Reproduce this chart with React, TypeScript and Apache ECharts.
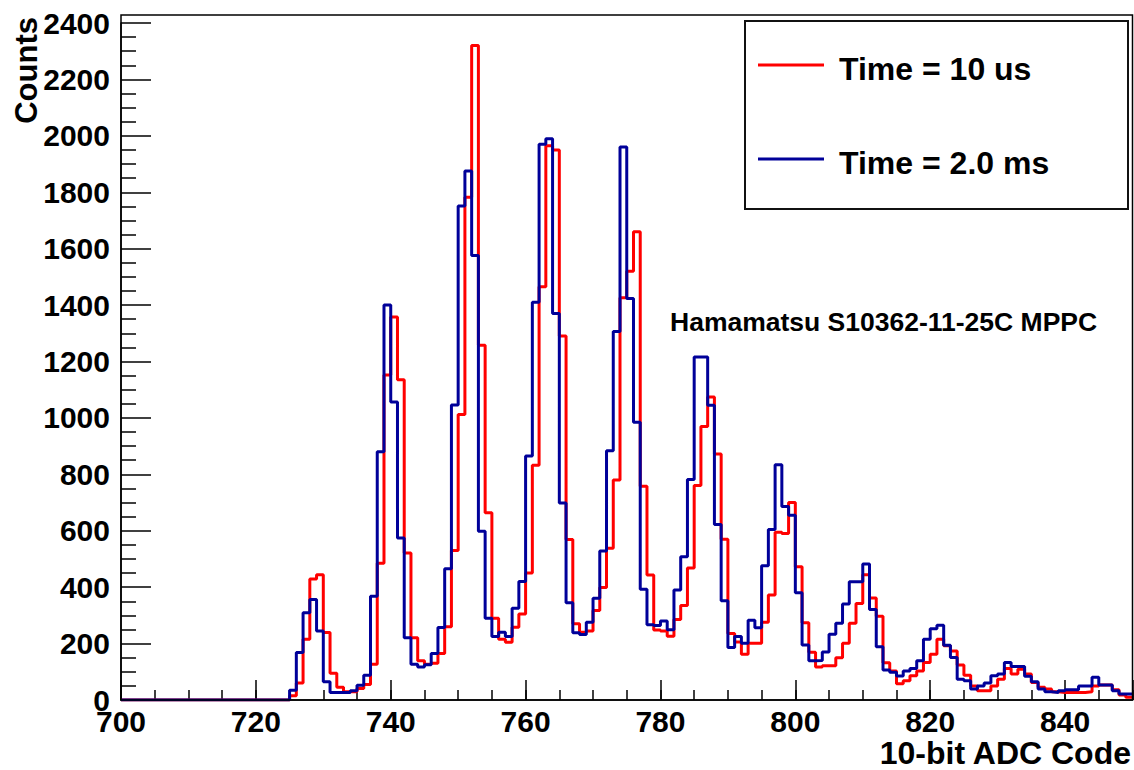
import React, { useEffect, useRef } from "react";
import * as echarts from "echarts";

// ---- data (bin width 1 ADC code, first bin starts at 700) ----
const firstBin = 700;
const binWidth = 1;
const xMin = 700;
const xMax = 850;
const yMin = 0;
const yMax = 2400;
const xTickStep = 20;
const xMinorStep = 5;
const yTickStep = 200;

const seriesNames = ["Time = 10 us", "Time = 2.0 ms"];
const seriesColors = ["#ff0000", "#000099"];

// bins 700..849
const redCounts = [
  0, 0, 0, 0, 0, 0, 0, 0, 0, 0, // 700-709
  0, 0, 0, 0, 0, 0, 0, 0, 0, 0, // 710-719
  0, 0, 0, 0, 0, 15, 60, 215, 429, 444, // 720-729
  239, 95, 45, 29, 29, 41, 55, 127, 485, 1152, // 730-739
  1358, 1135, 521, 221, 139, 127, 130, 165, 260, 530, // 740-749
  1012, 1782, 2320, 1258, 664, 290, 215, 205, 258, 305, // 750-759
  450, 832, 1465, 1965, 1950, 1290, 569, 270, 240, 245, // 760-769
  317, 399, 538, 780, 1426, 1520, 1660, 758, 443, 248, // 770-779
  245, 226, 285, 335, 468, 760, 970, 1074, 872, 570, // 780-789
  236, 206, 162, 201, 201, 276, 372, 595, 590, 700, // 790-799
  472, 274, 169, 117, 121, 121, 150, 201, 272, 342, // 800-809
  444, 362, 297, 132, 103, 58, 68, 86, 103, 133, // 810-819
  162, 215, 192, 174, 124, 88, 50, 33, 33, 50, // 820-829
  74, 112, 92, 109, 92, 62, 45, 39, 29, 27, // 830-839
  27, 27, 27, 29, 50, 53, 53, 36, 18, 10, // 840-849
];

const blueCounts = [
  0, 0, 0, 0, 0, 0, 0, 0, 0, 0, // 700-709
  0, 0, 0, 0, 0, 0, 0, 0, 0, 0, // 710-719
  0, 0, 0, 0, 0, 35, 168, 309, 356, 245, // 720-729
  65, 27, 27, 27, 33, 52, 88, 368, 880, 1400, // 730-739
  1056, 574, 221, 127, 117, 125, 165, 257, 465, 1046, // 740-749
  1751, 1875, 1576, 598, 290, 225, 240, 225, 325, 420, // 750-759
  865, 1410, 1970, 1990, 1370, 698, 345, 238, 232, 276, // 760-769
  361, 528, 884, 1306, 1960, 1423, 985, 393, 267, 264, // 770-779
  280, 249, 390, 508, 782, 1216, 1216, 1045, 622, 352, // 780-789
  186, 225, 201, 283, 256, 476, 604, 834, 686, 655, // 790-799
  380, 195, 139, 140, 170, 233, 272, 340, 419, 419, // 800-809
  482, 321, 189, 106, 98, 85, 103, 112, 139, 215, // 810-819
  253, 265, 194, 151, 74, 68, 39, 50, 60, 86, // 820-829
  92, 133, 119, 119, 84, 65, 39, 29, 27, 33, // 830-839
  36, 36, 50, 50, 81, 53, 53, 33, 21, 21, // 840-849
];

const annotationText = "Hamamatsu S10362-11-25C MPPC";
const xTitle = "10-bit ADC Code";
const yTitle = "Counts";

const FONT = "'Liberation Sans', Arial, Helvetica, sans-serif";

function toSteps(counts: number[]): number[][] {
  const pts = counts.map((c, i) => [firstBin + i * binWidth, c]);
  pts.push([firstBin + counts.length * binWidth, counts[counts.length - 1]]);
  return pts;
}

export default function App() {
  const ref = useRef<HTMLDivElement>(null);

  useEffect(() => {
    if (!ref.current) return;
    const chart = echarts.init(ref.current, undefined, { renderer: "svg" });

    const W = 1134;
    const plotLeft = 121;
    const plotRight = 1132.5;
    const plotBottom = 700;
    const frameTop = 15;
    const axisTop = 23;

    const axisLabelStyle = {
      fontFamily: FONT,
      fontWeight: "bold" as const,
      fontSize: 30,
      color: "#000",
    };

    const option: any = {
      animation: false,
      backgroundColor: "#fff",
      grid: {
        left: plotLeft,
        right: W - plotRight,
        top: axisTop,
        bottom: 770 - plotBottom,
        containLabel: false,
        outerBoundsMode: "none",
      },
      xAxis: [
        {
          type: "value",
          min: xMin,
          max: xMax,
          interval: xTickStep,
          axisLine: { show: true, lineStyle: { color: "#000", width: 1.5 } },
          axisTick: { show: true, inside: true, length: 20, lineStyle: { color: "#000", width: 1.5 } },
          minorTick: { show: false },
          splitLine: { show: false },
          axisLabel: {
            ...axisLabelStyle,
            margin: 6,
            formatter: (v: number) => (v % xTickStep === 0 ? String(v) : ""),
          },
        },
        {
          // minor ticks every 5 ADC codes
          type: "value",
          position: "bottom",
          min: xMin,
          max: xMax,
          interval: xMinorStep,
          axisLine: { show: false },
          axisTick: { show: true, inside: true, length: 10, lineStyle: { color: "#000", width: 1.5 } },
          axisLabel: { show: false },
          splitLine: { show: false },
        },
      ],
      yAxis: {
        type: "value",
        min: yMin,
        max: yMax,
        interval: yTickStep,
        axisLine: { show: true, lineStyle: { color: "#000", width: 1.5 } },
        axisTick: { show: true, inside: true, length: 30, lineStyle: { color: "#000", width: 1.5 } },
        minorTick: { show: true, splitNumber: 4, length: 15, lineStyle: { color: "#000", width: 1.5 } },
        splitLine: { show: false },
        axisLabel: { ...axisLabelStyle, margin: 11, formatter: (v: number) => String(v) },
      },
      series: [
        {
          name: seriesNames[0],
          type: "line",
          step: "end",
          symbol: "none",
          data: toSteps(redCounts),
          lineStyle: { color: seriesColors[0], width: 3 },
          itemStyle: { color: seriesColors[0] },
          z: 2,
        },
        {
          name: seriesNames[1],
          type: "line",
          step: "end",
          symbol: "none",
          data: toSteps(blueCounts),
          lineStyle: { color: seriesColors[1], width: 3 },
          itemStyle: { color: seriesColors[1] },
          z: 3,
        },
      ],
      graphic: [
        // frame box (top/right)
        {
          type: "rect",
          z: 10,
          silent: true,
          shape: { x: plotLeft, y: frameTop, width: plotRight - plotLeft, height: plotBottom - frameTop },
          style: { fill: "none", stroke: "#000", lineWidth: 1.5 },
        },
        // legend
        {
          type: "rect",
          z: 11,
          shape: { x: 745, y: 21, width: 383, height: 188 },
          style: { fill: "#fff", stroke: "#111", lineWidth: 2 },
        },
        {
          type: "line",
          z: 12,
          shape: { x1: 758, y1: 65, x2: 824, y2: 65 },
          style: { stroke: seriesColors[0], lineWidth: 3 },
        },
        {
          type: "text",
          z: 12,
          x: 839,
          y: 69,
          style: {
            text: seriesNames[0],
            fontFamily: FONT,
            fontWeight: "bold",
            fontSize: 32,
            fill: "#000",
            align: "left",
            verticalAlign: "middle",
          },
        },
        {
          type: "line",
          z: 12,
          shape: { x1: 758, y1: 159, x2: 824, y2: 159 },
          style: { stroke: seriesColors[1], lineWidth: 3 },
        },
        {
          type: "text",
          z: 12,
          x: 839,
          y: 163,
          style: {
            text: seriesNames[1],
            fontFamily: FONT,
            fontWeight: "bold",
            fontSize: 32,
            fill: "#000",
            align: "left",
            verticalAlign: "middle",
          },
        },
        // annotation
        {
          type: "text",
          z: 12,
          x: 670,
          y: 322,
          style: {
            text: annotationText,
            fontFamily: FONT,
            fontWeight: "bold",
            fontSize: 26.5,
            fill: "#000",
            align: "left",
            verticalAlign: "middle",
          },
        },
        // x title
        {
          type: "text",
          z: 12,
          x: 1131,
          y: 753,
          style: {
            text: xTitle,
            fontFamily: FONT,
            fontWeight: "bold",
            fontSize: 32,
            fill: "#000",
            align: "right",
            verticalAlign: "middle",
          },
        },
        // y title
        {
          type: "text",
          z: 12,
          x: 26,
          y: 17,
          rotation: Math.PI / 2,
          style: {
            text: yTitle,
            fontFamily: FONT,
            fontWeight: "bold",
            fontSize: 31,
            fill: "#000",
            align: "right",
            verticalAlign: "middle",
          },
        },
      ],
    };

    chart.setOption(option);
    return () => chart.dispose();
  }, []);

  return (
    <div
      ref={ref}
      style={{ position: "fixed", left: 0, top: 0, width: 1134, height: 770, background: "#fff" }}
    />
  );
}
